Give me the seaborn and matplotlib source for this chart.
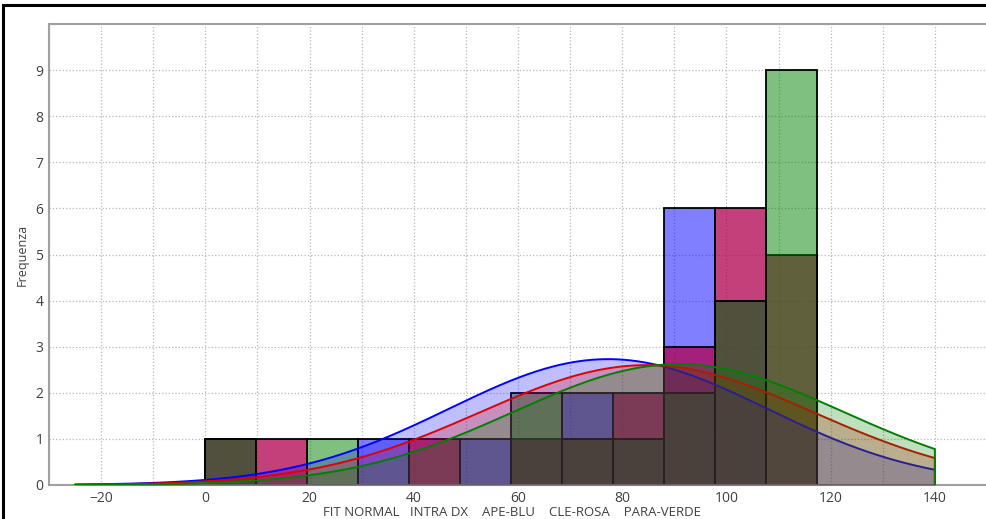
import numpy as np
import pandas as pd
import matplotlib
matplotlib.use("Agg")
import matplotlib.pyplot as plt
from matplotlib.patches import Rectangle
import seaborn as sn

# Istogramma: 12 classi da 0 a 117.3
bin_edges = np.linspace(0, 117.3, 13)
bin_centers = (bin_edges[:-1] + bin_edges[1:]) / 2

# Frequenze, per classe
ape_blu = [1, 0, 0, 1, 0, 1, 1, 2, 1, 6, 4, 0]
cle_rosa = [1, 1, 0, 0, 1, 0, 1, 1, 2, 3, 6, 5]
para_verde = [1, 0, 1, 0, 0, 0, 2, 1, 1, 2, 4, 9]

# Parametri dei fit normali (media, dev. standard, altezza del picco)
fit_media = [77.3, 84.7, 90.8]
fit_dev = [30.5, 32.0, 31.6]
fit_picco = [2.73, 2.60, 2.62]

serie = ["APE-BLU", "CLE-ROSA", "PARA-VERDE"]
conteggi = [ape_blu, cle_rosa, para_verde]
colori_barre = [(0.0, 0.0, 1.0), (0.69, 0.0, 0.31), (0.0, 0.5, 0.0)]
alpha_barre = [0.5, 0.75, 0.5]
colori_fit = ["#0000ff", "#e00000", "#008000"]

fit_lo, fit_hi = -25, 140

sn.set_style("white")
plt.rcParams["font.family"] = ["Open Sans", "DejaVu Sans"]

fig = plt.figure(figsize=(9.87, 5.19), dpi=100)
ax = fig.add_axes([49 / 987, 1 - 485 / 519, 1 - 49 / 987, (485 - 24) / 519])

# Barre sovrapposte
for nome, cnt, col, a in zip(serie, conteggi, colori_barre, alpha_barre):
    df = pd.DataFrame({"valore": np.repeat(bin_centers, cnt)})
    sn.histplot(data=df, x="valore", bins=bin_edges, ax=ax, color=col, alpha=a,
                edgecolor="black", linewidth=1.3, zorder=2)

# Curve normali (fit), disegnate sopra le barre
xs = np.linspace(fit_lo, fit_hi, 400)
for i, col in enumerate(colori_fit):
    ys = fit_picco[i] * np.exp(-(xs - fit_media[i]) ** 2 / (2 * fit_dev[i] ** 2))
    ax.fill_between(xs, 0, ys, color=col, alpha=0.25, lw=0, zorder=3 + i)
    ax.plot(np.r_[xs, fit_hi], np.r_[ys, 0], color=col, lw=1.4, zorder=3 + i)

ax.set_xlim(-30, 150)
ax.set_ylim(0, 10)
ax.set_xticks(range(-20, 141, 20))
ax.set_xticks(range(-30, 151, 10), minor=True)
ax.set_yticks(range(0, 10))
ax.grid(True, which="both", axis="x", color="#b8b8b8", linestyle=":", lw=0.9)
ax.grid(True, which="major", axis="y", color="#b8b8b8", linestyle=":", lw=0.9)
ax.set_axisbelow(True)
ax.tick_params(which="minor", length=0)
ax.tick_params(which="major", length=3, width=1, color="#909090", labelsize=10,
               labelcolor="#404040", pad=1)
ax.set_xlabel("")
ax.set_ylabel("Frequenza", fontsize=9, color="#404040", labelpad=5)
for lato in ["left", "bottom", "top"]:
    ax.spines[lato].set_color("#a0a0a0")
    ax.spines[lato].set_linewidth(1.5)
ax.spines["right"].set_visible(False)

fig.text(512 / 987, 1 - 513 / 519, "FIT NORMAL   INTRA DX    APE-BLU    CLE-ROSA    PARA-VERDE",
         ha="center", va="center", fontsize=9.5, color="#404040")

# cornice esterna
fig.add_artist(Rectangle((3 / 987, -0.1), 2, 1 - 5 / 519 + 0.1, transform=fig.transFigure,
                         fill=False, lw=2.2, ec="black"))

fig.savefig("out.png", dpi=100)
